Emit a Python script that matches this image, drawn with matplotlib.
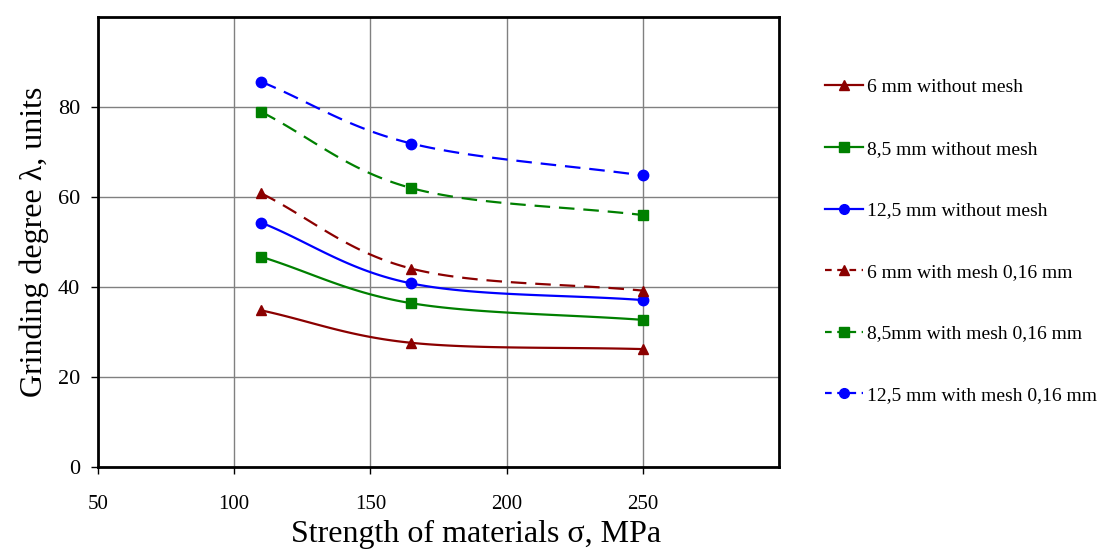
import numpy as np
import matplotlib
matplotlib.use('Agg')
import matplotlib.pyplot as plt

plt.rcParams['font.family'] = ['Liberation Serif', 'DejaVu Serif']

# data
strength = [110, 165, 250]
labels = ['6 mm without mesh', '8,5 mm without mesh', '12,5 mm without mesh',
          '6 mm with mesh 0,16 mm', '8,5mm with mesh 0,16 mm', '12,5 mm with mesh 0,16 mm']
d6_no = [34.8, 27.6, 26.2]
d85_no = [46.7, 36.4, 32.7]
d125_no = [54.3, 40.8, 37.1]
d6_mesh = [60.8, 44.1, 39.2]
d85_mesh = [78.9, 62.0, 56.0]
d125_mesh = [85.6, 71.9, 64.8]

colors = ['#8B0000', '#008000', '#0000FF'] * 2
markers = ['^', 's', 'o'] * 2
styles = ['-'] * 3 + ['--'] * 3
series = [d6_no, d85_no, d125_no, d6_mesh, d85_mesh, d125_mesh]


def smooth(x, y, n=40):
    # Catmull-Rom style smoothing like spreadsheet "smoothed line"
    x = np.asarray(x, float)
    y = np.asarray(y, float)
    px = np.concatenate([[2 * x[0] - x[1]], x, [2 * x[-1] - x[-2]]])
    py = np.concatenate([[2 * y[0] - y[1]], y, [2 * y[-1] - y[-2]]])
    xs, ys = [], []
    t = np.linspace(0, 1, n)
    for i in range(1, len(px) - 2):
        for p, out in ((px, xs), (py, ys)):
            p0, p1, p2, p3 = p[i - 1], p[i], p[i + 1], p[i + 2]
            out.extend(0.5 * ((2 * p1) + (-p0 + p2) * t
                              + (2 * p0 - 5 * p1 + 4 * p2 - p3) * t ** 2
                              + (-p0 + 3 * p1 - 3 * p2 + p3) * t ** 3))
    return np.array(xs), np.array(ys)


fig = plt.figure(figsize=(11.04, 5.51), dpi=100)
ax = fig.add_axes([0.0888, 0.1525, 0.6168, 0.8165])

handles = []
for vals, c, m, ls, lab in zip(series, colors, markers, styles, labels):
    sx, sy = smooth(strength, vals)
    line, = ax.plot(sx, sy, color=c, lw=1.6, ls=ls)
    if ls == '--':
        line.set_dashes((7, 4))
    ax.plot(strength, vals, ls='none', marker=m, color=c, markersize=7.5)
    h, = ax.plot([], [], color=c, lw=1.6, ls=ls, marker=m, markersize=7, label=lab)
    if ls == '--':
        h.set_dashes((3, 2.5))
    handles.append(h)

ax.set_xlim(50, 300)
ax.set_ylim(0, 100)
ax.set_xticks([50, 100, 150, 200, 250])
ax.set_yticks([0, 20, 40, 60, 80])
ax.grid(True, color='#808080', lw=1)
ax.set_axisbelow(True)
for s in ax.spines.values():
    s.set_linewidth(2)
ax.tick_params(direction='out', length=5, width=1)
ax.tick_params(axis='y', labelsize=16, pad=8)
ax.tick_params(axis='x', labelsize=15, pad=15)

ax.set_xlabel('Strength of materials σ, MPa', fontsize=23)
ax.xaxis.set_label_coords(0.555, -0.118)
ax.set_ylabel('Grinding degree λ, units', fontsize=23, labelpad=6)

fig.legend(handles=handles, loc='upper left', bbox_to_anchor=(0.731, 0.889),
           frameon=False, fontsize=14, labelspacing=2.26, handlelength=2.0,
           handletextpad=0.2)

fig.savefig('out.png', dpi=100)
